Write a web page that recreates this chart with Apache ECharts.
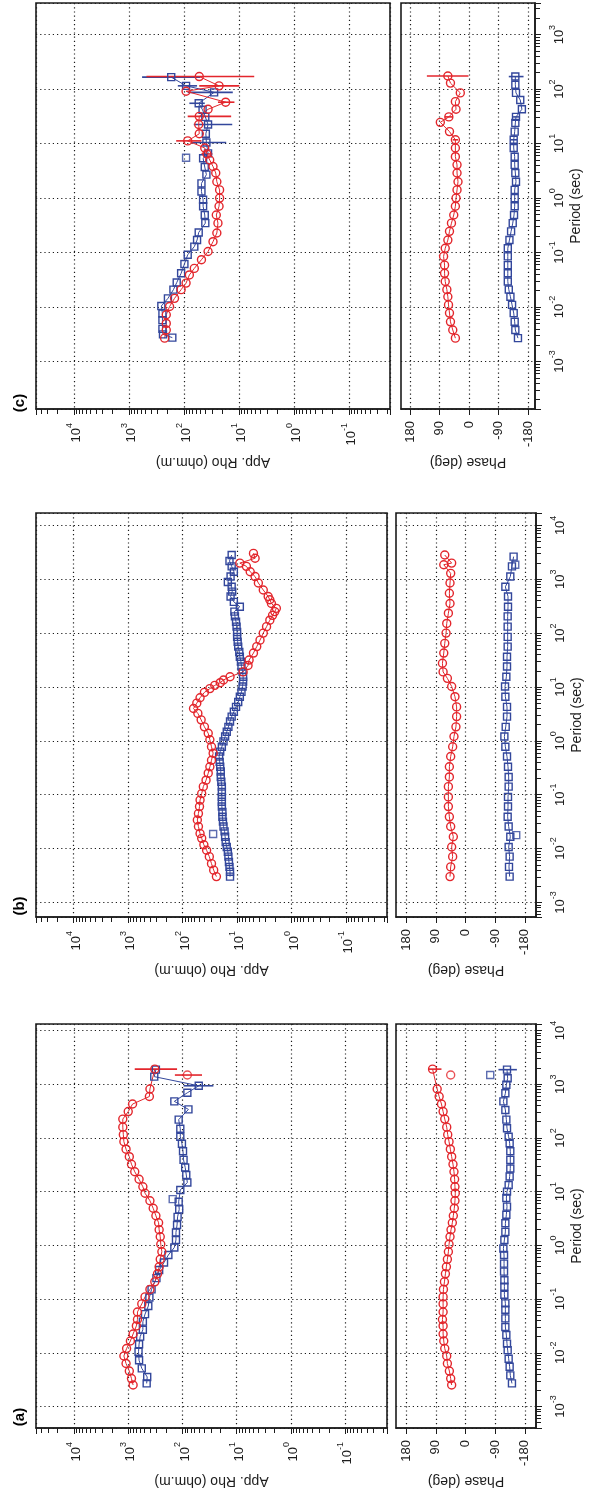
<!DOCTYPE html>
<html>
<head>
<meta charset="utf-8">
<script src="https://cdn.jsdelivr.net/npm/echarts@6.0.0/dist/echarts.min.js"></script>
<style>
html,body{margin:0;padding:0;background:#fff}
#main{width:596px;height:1499px}
</style>
</head>
<body>
<div id="main"></div>
<script>

/* ---------- panel (a) ---------- */
var aRedLogT = [-2.60,-2.48,-2.34,-2.20,-2.06,-1.92,-1.78,-1.65,-1.50,-1.38,-1.24,-1.09,-0.96,-0.82,-0.68,-0.53,-0.40,-0.26,-0.12,0.02,0.16,0.29,0.42,0.55,0.69,0.83,0.97,1.09,1.23,1.37,1.51,1.65,1.79,1.93,2.06,2.20,2.35,2.49,2.63,2.77,2.91,3.28];
var aRedLogRho = [2.91,2.94,2.98,3.04,3.08,3.03,2.96,2.91,2.85,2.83,2.83,2.75,2.69,2.60,2.51,2.46,2.43,2.41,2.38,2.40,2.41,2.43,2.44,2.49,2.54,2.60,2.69,2.73,2.80,2.88,2.94,2.98,3.04,3.08,3.09,3.10,3.10,3.00,2.92,2.61,2.60,2.51];
var aRedPhase = [42,45,49,55,57,63,66,68,68,70,68,68,68,67,64,61,58,55,52,50,47,44,40,37,34,32,31,32,33,35,38,42,46,50,54,57,63,68,73,80,86,100];
var aRedOutLogT = [3.17];
var aRedOutLogRho = [1.91];
var aRedOutPhase = [45];
var aRedRhoBars = [[3.17,1.64,2.14],[3.28,2.10,2.88]];
var aRedPhaseBars = [[3.28,73,113]];

var aBlueLogT = [-2.57,-2.45,-2.29,-2.14,-1.98,-1.84,-1.70,-1.57,-1.42,-1.28,-1.13,-0.97,-0.82,-0.61,-0.46,-0.32,-0.18,-0.04,0.10,0.24,0.38,0.53,0.67,0.81,1.03,1.17,1.31,1.45,1.59,1.75,1.89,2.02,2.17,2.34,2.53,2.68,2.84,2.97,3.14,3.27];
var aBlueLogRho = [2.66,2.65,2.75,2.80,2.81,2.80,2.78,2.73,2.73,2.69,2.63,2.61,2.57,2.48,2.43,2.34,2.26,2.15,2.12,2.12,2.10,2.09,2.06,2.07,2.04,1.91,1.93,1.95,1.98,1.99,2.01,2.04,2.04,2.07,1.89,2.15,1.91,1.70,2.52,2.49];
var aBlueOutLogT = [0.86];
var aBlueOutLogRho = [2.18];
var aBluePhLogT = [-2.57,-2.42,-2.26,-2.11,-1.95,-1.83,-1.67,-1.52,-1.36,-1.20,-1.08,-0.92,-0.77,-0.65,-0.49,-0.34,-0.18,-0.06,0.10,0.25,0.41,0.57,0.72,0.88,1.00,1.12,1.28,1.43,1.59,1.75,1.90,2.02,2.18,2.34,2.52,2.68,2.83,2.99,3.11,3.27];
var aBluePhase = [-141,-136,-134,-131,-128,-126,-124,-121,-121,-121,-121,-118,-118,-118,-117,-117,-117,-115,-118,-121,-121,-124,-126,-124,-126,-131,-134,-136,-136,-136,-134,-131,-126,-124,-121,-115,-121,-124,-128,-126];
var aBluePhOutLogT = [3.17];
var aBluePhOut = [-75];
var aBlueRhoBars = [[2.97,1.43,1.98]];
var aBluePhaseBars = [[3.27,-156,-100]];

/* ---------- panel (b) ---------- */
var bRedLogT = [-2.52,-2.40,-2.28,-2.15,-2.03,-1.93,-1.81,-1.72,-1.59,-1.47,-1.35,-1.22,-1.10,-0.98,-0.85,-0.73,-0.60,-0.48,-0.36,-0.23,-0.11,0.02,0.14,0.26,0.39,0.51,0.60,0.70,0.80,0.90,0.97,1.03,1.08,1.13,1.19,1.28,1.40,1.50,1.63,1.75,1.87,2.00,2.12,2.24,2.33,2.40,2.46,2.55,2.62,2.68,2.80,2.93,3.05,3.14,3.24,3.30,3.39,3.48];
var bRedLogRho = [1.38,1.43,1.47,1.51,1.56,1.61,1.65,1.68,1.71,1.73,1.71,1.69,1.68,1.65,1.62,1.57,1.53,1.50,1.47,1.44,1.47,1.50,1.53,1.60,1.66,1.72,1.80,1.74,1.68,1.60,1.50,1.41,1.31,1.25,1.13,0.89,0.80,0.78,0.70,0.64,0.58,0.52,0.46,0.40,0.35,0.31,0.28,0.37,0.40,0.43,0.52,0.61,0.67,0.76,0.83,0.95,0.67,0.70];
var bRedPhLogT = [-2.52,-2.34,-2.15,-1.97,-1.78,-1.59,-1.41,-1.22,-1.04,-0.85,-0.67,-0.48,-0.29,-0.11,0.08,0.26,0.45,0.63,0.82,1.01,1.16,1.28,1.44,1.63,1.81,2.00,2.18,2.37,2.55,2.74,2.93,3.11,3.27,3.30,3.45];
var bRedPhase = [47,45,39,42,37,45,49,52,52,52,49,49,45,39,35,29,27,27,32,42,55,68,70,66,63,59,57,52,47,49,47,45,66,42,63];

var bBlueLogT = [-2.52,-2.43,-2.34,-2.25,-2.15,-2.06,-1.97,-1.88,-1.78,-1.68,-1.59,-1.50,-1.41,-1.32,-1.22,-1.13,-1.04,-0.95,-0.85,-0.76,-0.67,-0.57,-0.48,-0.39,-0.29,-0.20,-0.11,-0.01,0.08,0.17,0.26,0.36,0.45,0.54,0.63,0.72,0.82,0.91,1.01,1.10,1.19,1.28,1.38,1.47,1.56,1.65,1.75,1.84,1.93,2.02,2.12,2.21,2.31,2.40,2.49,2.58,2.68,2.77,2.86,2.95,3.05,3.14,3.24,3.34,3.45];
var bBlueLogRho = [1.13,1.13,1.14,1.15,1.16,1.17,1.19,1.21,1.22,1.23,1.25,1.26,1.27,1.27,1.28,1.28,1.28,1.28,1.28,1.29,1.30,1.30,1.31,1.32,1.33,1.31,1.28,1.25,1.22,1.19,1.16,1.13,1.10,1.06,1.02,0.98,0.95,0.92,0.90,0.89,0.89,0.90,0.92,0.93,0.95,0.96,0.98,0.99,1.00,1.00,1.01,1.02,1.04,1.05,0.95,1.06,1.12,1.09,1.10,1.17,1.12,1.06,1.10,1.14,1.10];
var bBlueOutLogT = [-1.73];
var bBlueOutLogRho = [1.44];
var bBluePhLogT = [-2.52,-2.34,-2.15,-1.97,-1.78,-1.59,-1.41,-1.22,-1.04,-0.85,-0.67,-0.48,-0.29,-0.11,0.08,0.26,0.45,0.63,0.82,1.01,1.19,1.38,1.56,1.75,1.93,2.12,2.31,2.49,2.68,2.86,3.05,3.24,3.42];
var bBluePhase = [-134,-132,-134,-131,-136,-131,-128,-129,-129,-131,-131,-129,-126,-121,-118,-122,-126,-126,-121,-120,-124,-126,-126,-128,-128,-128,-128,-129,-129,-121,-136,-141,-146];
var bBluePhOutLogT = [-1.75,3.27];
var bBluePhOut = [-154,-151];

/* ---------- panel (c) ---------- */
var cRedLogT = [-2.57,-2.42,-2.30,-2.14,-1.99,-1.84,-1.68,-1.56,-1.41,-1.29,-1.13,-0.98,-0.80,-0.64,-0.46,-0.31,-0.15,0.00,0.15,0.30,0.46,0.58,0.70,0.81,0.92,1.05,1.18,1.35,1.50,1.63,1.76,1.96,2.06,2.23];
var cRedLogRho = [2.35,2.32,2.32,2.32,2.26,2.17,2.05,1.96,1.90,1.81,1.68,1.56,1.47,1.40,1.38,1.41,1.36,1.35,1.35,1.40,1.42,1.47,1.53,1.58,1.62,1.93,1.72,1.73,1.72,1.56,1.24,1.96,1.36,1.72];
var cRedRhoBars = [[0.81,1.48,1.68],[1.05,1.68,2.14],[1.50,1.14,1.93],[1.76,1.08,1.38],[2.06,0.99,1.72],[2.23,0.72,2.68]];
var cRedPhLogT = [-2.57,-2.42,-2.27,-2.11,-1.96,-1.81,-1.68,-1.53,-1.38,-1.23,-1.07,-0.92,-0.77,-0.61,-0.46,-0.31,-0.15,0.00,0.15,0.30,0.46,0.61,0.76,0.92,1.07,1.22,1.39,1.49,1.63,1.77,1.93,2.11,2.24];
var cRedPhase = [42,50,57,60,63,65,68,73,75,75,78,73,65,60,54,47,42,40,37,34,37,37,42,42,42,60,88,62,40,42,27,57,65];
var cRedPhaseBars = [[1.07,34,50],[1.49,50,74],[2.24,2,129]];

var cBlueLogT = [-2.56,-2.50,-2.40,-2.24,-2.12,-1.98,-1.84,-1.68,-1.55,-1.38,-1.21,-1.04,-0.89,-0.77,-0.63,-0.46,-0.31,-0.15,-0.03,0.12,0.27,0.43,0.57,0.73,0.82,1.02,1.18,1.35,1.49,1.62,1.74,1.94,2.06,2.22];
var cBlueLogRho = [2.21,2.38,2.39,2.39,2.39,2.41,2.29,2.19,2.13,2.05,1.99,1.93,1.81,1.76,1.73,1.61,1.62,1.65,1.65,1.68,1.68,1.59,1.62,1.65,1.56,1.59,1.60,1.56,1.61,1.66,1.73,1.45,1.96,2.23];
var cBlueOutLogT = [0.74];
var cBlueOutLogRho = [1.96];
var cBlueRhoBars = [[1.02,1.23,1.87],[1.35,1.12,1.82],[1.74,1.62,1.90],[1.94,1.11,1.93],[2.06,1.76,2.11],[2.22,1.70,2.76]];
var cBluePhLogT = [-2.57,-2.42,-2.27,-2.11,-1.96,-1.81,-1.68,-1.53,-1.38,-1.23,-1.07,-0.92,-0.77,-0.61,-0.46,-0.31,-0.15,0.00,0.15,0.30,0.46,0.61,0.76,0.92,1.07,1.22,1.38,1.49,1.63,1.80,1.93,2.08,2.23];
var cBluePhase = [-149,-141,-139,-136,-131,-126,-121,-118,-118,-118,-118,-118,-123,-128,-133,-137,-139,-139,-139,-143,-141,-139,-139,-136,-136,-139,-141,-143,-161,-156,-143,-141,-141];
var cBluePhaseBars = [[1.07,-146,-126],[1.49,-152,-134],[2.23,-166,-121]];

/* ---------- layout (pixels) and axis ranges ---------- */
var panelBoxes = [
  { tag: '(c)', tagY: 403, top: 3, h: 406, rhoL: 36, rhoW: 354, phL: 401, phW: 134, rho: [-1.75, 4.69], per: [-3.87, 3.58], ph: [-201, 208] },
  { tag: '(b)', tagY: 906, top: 513, h: 404, rhoL: 36, rhoW: 351, phL: 396, phW: 140, rho: [-1.75, 4.69], per: [-3.27, 4.23], ph: [-214, 211] },
  { tag: '(a)', tagY: 1417, top: 1024, h: 404, rhoL: 36, rhoW: 351, phL: 396, phW: 140, rho: [-1.77, 4.70], per: [-3.40, 4.12], ph: [-214, 211] }
];

var RED = '#e3262c', BLUE = '#33479c', INK = '#1c1c1c';
var FONT = 'Liberation Sans, Arial, Helvetica, sans-serif';

var myChart = echarts.init(document.getElementById('main'), null, { renderer: 'canvas' });

function p10(v) { return Math.pow(10, v); }
function rhoPts(logT, logRho) { return logT.map(function (t, i) { return [p10(logRho[i]), p10(t)]; }); }
function phPts(logT, ph) { return logT.map(function (t, i) { return [ph[i], p10(t)]; }); }
function rhoBars(list) { return list.map(function (b) { return [p10(b[0]), p10(b[1]), p10(b[2])]; }); }
function phBars(list) { return list.map(function (b) { return [p10(b[0]), b[1], b[2]]; }); }

// 10^n labels, nothing at the fractional box edges
function powLabel(v) {
  var e = Math.log10(v), r = Math.round(e);
  if (Math.abs(e - r) > 0.001) return '';
  return '{b|10}{s|' + r + '}';
}
var powRich = {
  b: { fontFamily: FONT, fontSize: 13, color: INK, lineHeight: 18, verticalAlign: 'bottom' },
  s: { fontFamily: FONT, fontSize: 9, color: INK, lineHeight: 8, verticalAlign: 'top' }
};
var dotted = { show: true, lineStyle: { color: INK, width: 1.2, type: [1.2, 3] } };
var nameStyle = { fontFamily: FONT, fontSize: 14, color: INK };
var frameLine = { show: true, onZero: false, lineStyle: { color: INK, width: 1.6 } };

var grids = [], xAxes = [], yAxes = [], series = [], graphics = [];

function addSet(gi, pts, outPts, bars, color, symbol, size) {
  var item = { color: 'rgba(255,255,255,0)', borderColor: color, borderWidth: 1.4 };
  series.push({
    type: 'line', xAxisIndex: gi, yAxisIndex: gi, data: pts,
    symbol: symbol, symbolSize: size, itemStyle: item,
    lineStyle: { color: color, width: 1 }, z: 3
  });
  if (outPts.length) {
    series.push({ type: 'scatter', xAxisIndex: gi, yAxisIndex: gi, data: outPts,
      symbol: symbol, symbolSize: size, itemStyle: item, z: 3 });
  }
  if (bars.length) {
    series.push({
      type: 'custom', xAxisIndex: gi, yAxisIndex: gi, data: bars,
      encode: { x: [1, 2], y: 0 }, z: 2,
      renderItem: function (params, api) {
        var t = api.value(0);
        var a = api.coord([api.value(1), t]);
        var b = api.coord([api.value(2), t]);
        return { type: 'line', shape: { x1: a[0], y1: a[1], x2: b[0], y2: b[1] },
          style: { stroke: color, lineWidth: 1.6 } };
      }
    });
  }
}

panelBoxes.forEach(function (p, k) {
  var gR = 2 * k, gP = 2 * k + 1;
  var box = { show: true, borderColor: INK, borderWidth: 1.6, backgroundColor: '#fff' };
  grids.push(Object.assign({ left: p.rhoL, top: p.top, width: p.rhoW, height: p.h }, box));
  grids.push(Object.assign({ left: p.phL, top: p.top, width: p.phW, height: p.h }, box));

  // app. rho: horizontal, high values on the left
  xAxes.push({
    type: 'log', logBase: 10, gridIndex: gR, inverse: true, position: 'bottom',
    min: p10(p.rho[0]), max: p10(p.rho[1]),
    axisLine: frameLine,
    axisTick: { show: true, length: 6, lineStyle: { color: INK } },
    minorTick: { show: true, splitNumber: 9, length: 5, lineStyle: { color: INK } },
    axisLabel: { rotate: 90, margin: 14, formatter: powLabel, rich: powRich, showMinLabel: true, showMaxLabel: true },
    splitLine: dotted,
    name: 'App. Rho (ohm.m)', nameLocation: 'middle', nameGap: 46, nameRotate: 180, nameTextStyle: nameStyle
  });
  yAxes.push({
    type: 'log', logBase: 10, gridIndex: gR,
    min: p10(p.per[0]), max: p10(p.per[1]),
    axisLine: { show: false, onZero: false }, axisTick: { show: false }, axisLabel: { show: false },
    splitLine: dotted
  });

  // phase: horizontal, 180 on the left
  xAxes.push({
    type: 'value', gridIndex: gP, inverse: true, position: 'bottom',
    min: p.ph[0], max: p.ph[1],
    axisLine: frameLine,
    axisTick: { show: true, length: 6, lineStyle: { color: INK }, customValues: [-180, -90, 0, 90, 180] },
    axisLabel: { rotate: 90, margin: 12, fontFamily: FONT, fontSize: 13, color: INK, customValues: [-180, -90, 0, 90, 180] },
    splitLine: dotted,
    name: 'Phase (deg)', nameLocation: 'middle', nameGap: 46, nameRotate: 180, nameTextStyle: nameStyle
  });
  yAxes.push({
    type: 'log', logBase: 10, gridIndex: gP, position: 'right',
    min: p10(p.per[0]), max: p10(p.per[1]),
    axisLine: frameLine,
    axisTick: { show: true, length: 6, lineStyle: { color: INK } },
    minorTick: { show: true, splitNumber: 9, length: 5, lineStyle: { color: INK } },
    axisLabel: { rotate: 90, margin: 13, formatter: powLabel, rich: powRich },
    splitLine: dotted,
    name: 'Period (sec)', nameLocation: 'middle', nameGap: 34, nameRotate: 90, nameTextStyle: nameStyle
  });

  graphics.push({
    type: 'text', x: 20, y: p.tagY, rotation: Math.PI / 2,
    style: { text: p.tag, font: 'bold 15px ' + FONT, fill: '#000', align: 'center', verticalAlign: 'middle' }
  });
});

// panel (c) -> grids 0,1
addSet(0, rhoPts(cBlueLogT, cBlueLogRho), rhoPts(cBlueOutLogT, cBlueOutLogRho), rhoBars(cBlueRhoBars), BLUE, 'rect', 7);
addSet(0, rhoPts(cRedLogT, cRedLogRho), [], rhoBars(cRedRhoBars), RED, 'circle', 8);
addSet(1, phPts(cBluePhLogT, cBluePhase), [], phBars(cBluePhaseBars), BLUE, 'rect', 7);
addSet(1, phPts(cRedPhLogT, cRedPhase), [], phBars(cRedPhaseBars), RED, 'circle', 8);
// panel (b) -> grids 2,3
addSet(2, rhoPts(bBlueLogT, bBlueLogRho), rhoPts(bBlueOutLogT, bBlueOutLogRho), [], BLUE, 'rect', 7);
addSet(2, rhoPts(bRedLogT, bRedLogRho), [], [], RED, 'circle', 8);
addSet(3, phPts(bBluePhLogT, bBluePhase), phPts(bBluePhOutLogT, bBluePhOut), [], BLUE, 'rect', 7);
addSet(3, phPts(bRedPhLogT, bRedPhase), [], [], RED, 'circle', 8);
// panel (a) -> grids 4,5
addSet(4, rhoPts(aBlueLogT, aBlueLogRho), rhoPts(aBlueOutLogT, aBlueOutLogRho), rhoBars(aBlueRhoBars), BLUE, 'rect', 7);
addSet(4, rhoPts(aRedLogT, aRedLogRho), rhoPts(aRedOutLogT, aRedOutLogRho), rhoBars(aRedRhoBars), RED, 'circle', 8);
addSet(5, phPts(aBluePhLogT, aBluePhase), phPts(aBluePhOutLogT, aBluePhOut), phBars(aBluePhaseBars), BLUE, 'rect', 7);
addSet(5, phPts(aRedLogT, aRedPhase), phPts(aRedOutLogT, aRedOutPhase), phBars(aRedPhaseBars), RED, 'circle', 8);

var option = {
  animation: false,
  backgroundColor: '#fff',
  textStyle: { fontFamily: FONT },
  grid: grids,
  xAxis: xAxes,
  yAxis: yAxes,
  series: series,
  graphic: graphics
};
myChart.setOption(option);
</script>
</body>
</html>
